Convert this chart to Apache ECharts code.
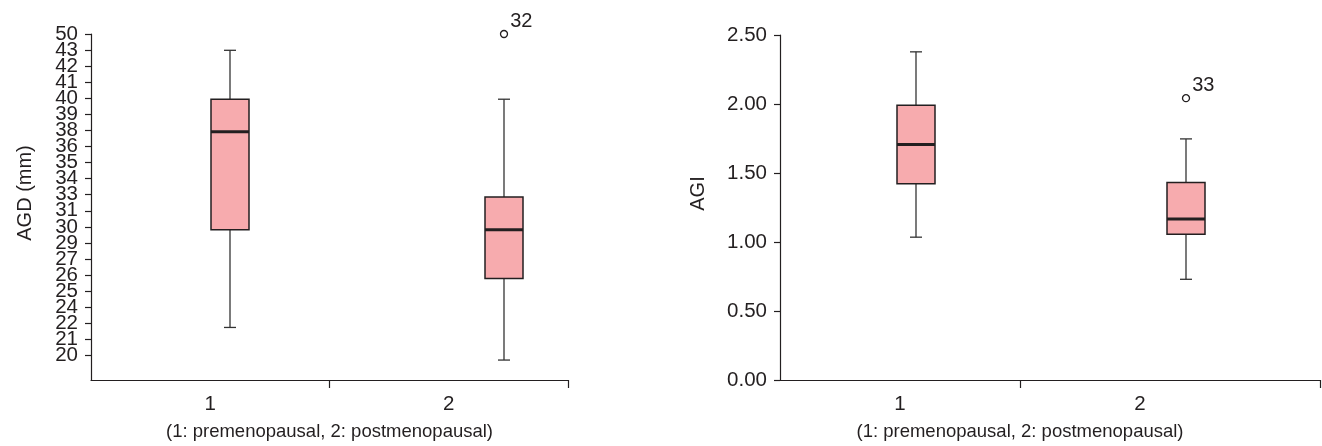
<!DOCTYPE html>
<html>
<head>
<meta charset="utf-8">
<script src="https://cdn.jsdelivr.net/npm/echarts@6/dist/echarts.min.js"></script>
<style>html,body{margin:0;padding:0;background:#fff}#c{width:1322px;height:446px}</style>
</head>
<body>
<div id="c"></div>
<script>
// ---- data ----
const groups = ['1', '2'];
const xTitle = '(1: premenopausal, 2: postmenopausal)';
// AGD axis uses the observed values as ordinal ticks
const agdTicks = [20, 21, 22, 24, 25, 26, 27, 29, 30, 31, 33, 34, 35, 36, 38, 39, 40, 41, 42, 43, 50];
// [min, Q1, median, Q3, max]
const agdBox = [[22, 30, 38, 40, 43], [20, 26, 30, 33, 40]];
const agdOutliers = [[1, 50, '32']];
const agiBox = [[1.06, 1.44, 1.72, 2.00, 2.38], [0.76, 1.08, 1.19, 1.45, 1.76]];
const agiOutliers = [[1, 2.05, '33']];

// ---- styling ----
const ink = '#231f20';
const font = "'Liberation Sans', Arial, Helvetica, sans-serif";
const fsTitle = 18.5;
const fsTick = 20.5;

const agdPos = v => agdTicks.indexOf(v);
const agdIdx = agdTicks.map((_, i) => i);
const agdEven = agdIdx.filter(i => i % 2 === 0);
const agdOdd = agdIdx.filter(i => i % 2 === 1);

function renderBox(params, api) {
  const x = api.value(0);
  const pMin = api.coord([x, api.value(1)]);
  const pQ1 = api.coord([x, api.value(2)]);
  const pMed = api.coord([x, api.value(3)]);
  const pQ3 = api.coord([x, api.value(4)]);
  const pMax = api.coord([x, api.value(5)]);
  const cx = pMin[0];
  const hw = 19, cw = 6;
  const wl = {stroke: '#333', lineWidth: 1.3};
  return {
    type: 'group',
    children: [
      {type: 'line', shape: {x1: cx, y1: pMax[1], x2: cx, y2: pQ3[1]}, style: wl},
      {type: 'line', shape: {x1: cx, y1: pQ1[1], x2: cx, y2: pMin[1]}, style: wl},
      {type: 'line', shape: {x1: cx - cw, y1: pMax[1], x2: cx + cw, y2: pMax[1]}, style: wl},
      {type: 'line', shape: {x1: cx - cw, y1: pMin[1], x2: cx + cw, y2: pMin[1]}, style: wl},
      {type: 'rect', shape: {x: cx - hw, y: pQ3[1], width: hw * 2, height: pQ1[1] - pQ3[1]},
        style: {fill: '#f7abae', stroke: ink, lineWidth: 1.5}},
      {type: 'line', shape: {x1: cx - hw, y1: pMed[1], x2: cx + hw, y2: pMed[1]},
        style: {stroke: ink, lineWidth: 3}}
    ]
  };
}

const axisLine = {show: true, onZero: false, lineStyle: {color: ink, width: 1.2}};
const tickTxt = {color: ink, fontFamily: font, fontSize: fsTick};
const titleTxt = {color: ink, fontFamily: font, fontSize: fsTitle};
const nameTxt = {color: ink, fontFamily: font, fontSize: 20};

const agdAxis = (vals, withName) => Object.assign({
  gridIndex: 0, type: 'value', position: 'left', offset: 0, min: -1.53, max: 20,
  axisLine: withName ? axisLine : {show: false}, splitLine: {show: false},
  axisTick: {show: true, length: 6, lineStyle: {color: ink, width: 1.2}, customValues: vals},
  axisLabel: Object.assign({margin: 13, customValues: vals,
    formatter: v => String(agdTicks[Math.round(v)])}, tickTxt)
}, withName ? {name: 'AGD (mm)', nameLocation: 'middle', nameGap: 56,
  nameTextStyle: Object.assign({padding: [0, 0, 0, 28]}, nameTxt)} : {});

const outlierSeries = (xi, yi, data) => ({
  type: 'scatter', xAxisIndex: xi, yAxisIndex: yi, symbol: 'circle', symbolSize: 7,
  itemStyle: {color: '#fff', borderColor: ink, borderWidth: 1.3, opacity: 1},
  label: {show: true, position: 'right', distance: 2, offset: [0, -13], formatter: p => p.data[2],
    color: ink, fontFamily: font, fontSize: 20},
  data: data
});

const chart = echarts.init(document.getElementById('c'));
chart.setOption({
  animation: false,
  backgroundColor: '#fff',
  grid: [
    {left: 91, top: 34, width: 477, height: 351},
    {left: 93, top: 34, width: 548, height: 351},
    {left: 780, top: 35, width: 540, height: 351},
    {left: 781, top: 35, width: 540, height: 351}
  ],
  xAxis: [
    {gridIndex: 0, type: 'value', min: 0, max: 2,
      axisLine: axisLine, splitLine: {show: false},
      axisTick: {show: true, inside: false, length: 8, lineStyle: {color: ink, width: 1.2}, customValues: [1, 2]},
      axisLabel: Object.assign({margin: 14, customValues: [0.5, 1.5], formatter: v => groups[Math.floor(v)]}, tickTxt),
      name: xTitle, nameLocation: 'middle', nameGap: 42, nameTextStyle: titleTxt},
    {gridIndex: 1, type: 'category', data: groups, show: false},
    {gridIndex: 2, type: 'value', min: 0, max: 2.25,
      axisLine: axisLine, splitLine: {show: false},
      axisTick: {show: true, inside: false, length: 8, lineStyle: {color: ink, width: 1.2}, customValues: [1, 2.25]},
      axisLabel: Object.assign({margin: 14, customValues: [0.5, 1.5], formatter: v => groups[Math.floor(v)]}, tickTxt),
      name: xTitle, nameLocation: 'middle', nameGap: 42,
      nameTextStyle: Object.assign({padding: [0, 60, 0, 0]}, titleTxt)},
    {gridIndex: 3, type: 'category', data: groups, show: false}
  ],
  yAxis: [
    agdAxis(agdEven, true),
    agdAxis(agdOdd, false),
    {gridIndex: 1, type: 'value', min: -1.53, max: 20, show: false, splitLine: {show: false}},
    {gridIndex: 2, type: 'value', min: 0, max: 2.5, interval: 0.5,
      axisLine: axisLine, splitLine: {show: false},
      axisTick: {show: true, length: 6, lineStyle: {color: ink, width: 1.2}},
      axisLabel: Object.assign({margin: 13, showMinLabel: true, showMaxLabel: true, formatter: v => v.toFixed(2)}, tickTxt),
      name: 'AGI', nameLocation: 'middle', nameGap: 72,
      nameTextStyle: Object.assign({padding: [0, 0, 0, 28]}, nameTxt)},
    {gridIndex: 3, type: 'value', min: 0, max: 2.5, show: false, splitLine: {show: false}}
  ],
  series: [
    {type: 'custom', xAxisIndex: 1, yAxisIndex: 2, renderItem: renderBox,
      encode: {x: 0, y: [1, 2, 3, 4, 5]},
      data: agdBox.map((b, i) => [i].concat(b.map(agdPos)))},
    outlierSeries(1, 2, agdOutliers.map(o => [o[0], agdPos(o[1]), o[2]])),
    {type: 'custom', xAxisIndex: 3, yAxisIndex: 4, renderItem: renderBox,
      encode: {x: 0, y: [1, 2, 3, 4, 5]},
      data: agiBox.map((b, i) => [i].concat(b))},
    outlierSeries(3, 4, agiOutliers.map(o => [o[0], o[1], o[2]]))
  ]
});
</script>
</body>
</html>
